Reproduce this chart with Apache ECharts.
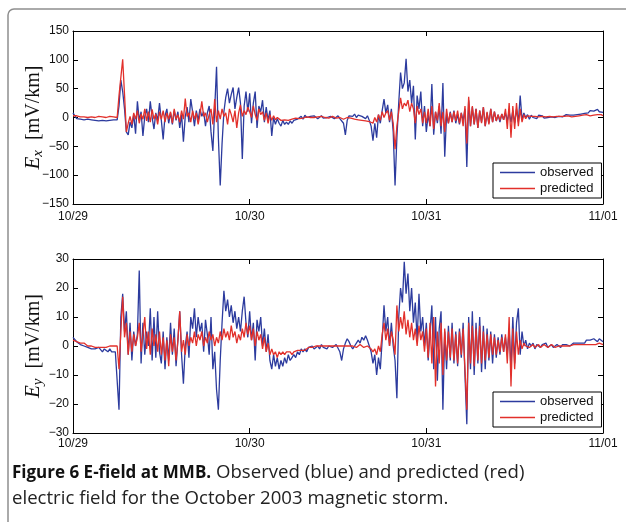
<!DOCTYPE html>
<html lang="en">
<head>
<meta charset="UTF-8">
<script src="https://cdn.jsdelivr.net/npm/echarts@6/dist/echarts.min.js"></script>
<title>E-field at MMB</title>
<style>
  html, body { margin: 0; padding: 0; background: #fff; }
  #chart { width: 626px; height: 522px; }
</style>
</head>
<body>
<div id="chart"></div>
<script>
// traces digitised every 15 min, 10/29 00:00 -> 11/01 00:00 (hours from start)
var stepHours = 0.25;
var dayLabels = ['10/29', '10/30', '10/31', '11/01'];
var seriesNames = ['observed', 'predicted'];

// Ex [mV/km]
var obsEx = [
  8, 3, -2, -4, -3, -5, -4, -6, -3, -5, -4, -7, -5, -3, -6, -4, -5, -3, -6, -4, -5, -3, -4, -6,
  -4, 20, 65, 45, 15, -25, -30, -8, -18, 5, -28, 28, -5, 10, -32, 2, 15, -8, 28, 0, -20, 8, -5, 25,
  -5, -38, 3, 15, -10, 8, -12, 12, -5, 10, -18, 5, -42, 2, 18, -8, 32, 10, -15, 12, -5, 15, 2, 10,
  -15, 8, 20, -25, -58, 15, 88, -35, -118, -45, 10, 35, 50, 25, 40, 52, 15, 35, 52, 25, -72, 20, 45, 10,
  42, -10, 25, 45, -18, 20, 10, 30, -8, 18, -5, 12, -32, 0, -12, -2, -10, -15, -5, -12, -8, -12, -6, -10,
  -5, -8, -3, -2, 2, -3, 4, 0, -2, 2, -1, 3, 0, -2, 1, 3, -1, 2, 0, -3, 2, 1, -2, 0,
  3, -2, 0, -10, -30, -5, 3, 5, 2, 6, 0, 4, 7, 2, 5, -2, 3, -5, -15, -40, -10, -35, 5, -10,
  12, 32, 8, 22, -8, 15, -25, -118, -35, 25, 78, 50, 60, 102, 45, 65, 25, 55, -38, 38, 15, 45, -15, 20,
  -25, 5, -15, 58, -30, 10, -10, 20, -28, 60, -68, 5, -10, 10, -8, 12, -10, 6, -12, 8, -6, 15, -86, 30,
  -15, 18, -12, 15, -18, 12, -8, 18, -15, 8, -10, 15, -8, 10, -6, 5, -8, 6, -4, 8, -6, 10, -8, 12,
  -10, 15, -8, 38, -4, 8, 0, 5, -3, 4, 0, 3, -2, 4, 1, 3, -1, 2, 0, 3, 1, 2, 0, 3,
  2, 4, 1, 3, 5, 3, 4, 6, 4, 7, 5, 8, 6, 9, 7, 10, 8, 12, 9, 11, 8, 14, 10, 12,
  9
];
var predEx = [
  3, 2, 3, 2, 1, 2, 1, 2, 0, 2, 1, 2, 0, 1, 2, 0, 1, 2, 0, 1, 2, 0, 1, 0,
  0, 38, 35, 101, 40, -25, -10, 2, -12, 8, -3, 12, -10, 6, -3, 15, -6, 10, -8, 14, -3, 6, -12, 10,
  -3, 12, -8, 8, -3, 10, -10, 15, -3, 5, -8, 12, -3, 33, 2, 8, -8, 12, -3, 8, -12, 5, 28, 2,
  8, -8, 5, 15, -12, 32, -8, 12, -3, 15, 2, 8, -12, 15, 5, -8, 12, -18, 8, 22, 2, 12, 5, 18,
  10, 0, 20, 5, -5, 15, 5, 10, -5, 8, -10, 5, -5, 3, -4, 0, -3, -5, -2, -4, -3, -5, -2, -3,
  -2, -1, 0, -2, 1, -1, 0, 1, -1, 0, 2, 0, -1, 1, 0, 2, -1, 0, 1, -1, 0, 2, 0, -1,
  1, 0, -1, -3, -2, 0, 1, -1, 0, -3, -2, -4, -3, -5, -4, -6, -5, -7, -4, -10, 0, -8, 5, -5,
  10, 0, 8, 12, -5, 10, -10, -55, -15, 10, 34, 15, 25, 20, 30, 10, 25, 15, -10, 20, 5, 15, -10, 10,
  -10, 15, -15, 20, -20, 10, -5, 25, -15, 10, -25, 15, -10, 8, -8, 10, -6, 12, -10, 8, -15, 20, -45, 36,
  -15, 20, -12, 15, -18, 12, -10, 18, -15, 10, -12, 15, -8, 10, -6, 5, -5, 6, -4, 15, -20, 25, -35, 20,
  -20, 25, -15, 15, -8, 5, -2, 3, 0, 2, -1, 2, 0, 1, -1, 2, 0, 1, -1, 2, 0, 1, 0, 2,
  1, 2, 0, 2, 1, 3, 2, 1, 3, 2, 4, 3, 2, 4, 3, 5, 4, 3, 5, 4, 6, 5, 4, 5,
  3
];

// Ey [mV/km]
var obsEy = [
  3, 2.5, 1.5, 1, 0.5, 1, 0, 0.5, -0.5, 0, -1, -0.5, -1, -1.5, -0.5, -1, -2, -1, -1.5, -2, -1, -2, -1.5, -2,
  -1.5, -22, 10, 18, 5, 12, -3, 8, -5, 5, 0, 4, 26, -6, 8, -3, 5, 0, 13, -5, 10, -4, 12, -2,
  -6, 5, -8, 3, -5, 8, -3, 6, -7, 2, 12, -3, -13, 0, 5, -4, 10, 6, 13, 3, 10, 5, 8, -2,
  9, 4, -3, 10, -8, -2, -15, -22, -5, 8, 19, 12, 16, 10, 14, 8, 12, 6, 10, 5, 12, 17, 8, 3,
  12, 2, 8, -5, 9, 5, 10, 0, 6, -2, 4, -5, -8, -3, -7, -4, -8, -5, -7, -4, -6, -3, -5, -4,
  -3, -4, -2, -3, -1, -2, -1, -2, -0.5, -1, 0, -1, -0.5, 0, -1, 0.5, -0.5, 0, -1, 0, 0.5, -0.5, 0, 0.5,
  0, -2, -5, -1, 1, 2.5, 1.5, 0, -1, 0, 1, 2, 1, 3, 2, 3.5, 2, 0, -2, -6, -3, -10, -4, -8,
  2, 14, 5, 10, 0, 8, 0, -5, -18, 10, 20, 15, 29, 18, 25, 12, 20, 8, 15, 2, 18, 5, 10, 0,
  8, -5, 5, 14, -8, 10, -12, 6, 12, -22, 5, -8, 7, -5, 8, -6, 5, -7, 6, -4, 8, -10, -27, 10,
  -8, 12, -10, 8, -6, 10, -9, 7, -8, 6, -5, 5, -6, 4, -4, 3, -3, 4, -2, 3, -3, 6, -8, 10,
  -6, 8, 13, -3, 5, 0, 2, -1, 1, 0, 1, -1, 0.5, 1, -0.5, 0.5, 0, 1, -0.5, 0, 0.5, -0.5, 0, 0.5,
  0, -0.5, 0.5, 0, 0.5, 1, 0, 0.5, 1, 0.5, 1, 1.5, 1, 1.5, 1, 2, 1.5, 2, 1.5, 2.5, 2, 1.5, 2.5, 2,
  1.5
];
var predEy = [
  2, 1.5, 1.5, 1, 1, 0.5, 1, 0.5, 0, 0.5, 0, 0, -0.5, 0, -0.5, 0, -0.5, 0, -0.5, -0.5, 0, -0.5, 0, -0.5,
  0, -8, 5, 17, 3, 8, -3, 5, -2, 4, 0, 3, 8, -2, 4, 10, -1, 5, -3, 6, 0, 4, -2, 5,
  -3, 3, -5, 2, -7, 4, -2, 3, -5, 2, 12, -2, 2, -3, 4, 0, 3, 1, 5, 0, 4, 2, 5, 0,
  3, 1, 5, 2, 4, 0, 3, 1, 5, 2, 6, 3, 5, 2, 7, 3, 5, 1, 4, 2, 6, 3, 8, 4,
  7, 2, 6, 0, 5, 2, 4, -1, 3, -2, 1, -3, -1, -3, -2, -4, -2, -3, -2, -3, -2, -2.5, -2, -3,
  -2, -2.5, -1.5, -2, -1.5, -1, -1.5, -1, -0.5, -1, -0.5, -1, 0, -0.5, 0, -0.5, 0, 0.5, 0, -0.5, 0, 0.5, 0, 0,
  0, -0.5, 0, 0.5, 0, -0.5, 0, 0.5, 0, 0, -0.5, 0, 0.5, 0, -0.5, 0, 0, -0.5, -1, -2, -1, -3, 0, -2,
  4, 8, 2, 6, 0, 5, 2, -3, 14, 5, 10, 6, 12, 4, 9, 3, 8, 2, 6, 0, 7, 2, 5, -2,
  6, -4, 8, -6, 10, -14, 5, -6, 8, -10, 6, -5, 5, -4, 6, -5, 4, -6, 5, -3, 6, -8, -22, 8,
  -6, 7, -7, 6, -5, 7, -6, 5, -5, 4, -4, 4, -3, 3, -3, 2, -2, 3, -2, 4, -6, 10, -14, 6,
  -8, 5, -3, 2, -1, 1, 0, 0.5, -0.5, 0, 0.5, -0.5, 0, 0.5, -0.5, 0, 0.5, 0, -0.5, 0, 0.5, 0, -0.5, 0,
  0, 0.5, 0, -0.5, 0, 0.5, 0, 0, 0.5, 0, 0.5, 1, 0.5, 0, 0.5, 1, 0.5, 1, 0.5, 1, 0.5, 1, 1, 0.5,
  0.5
];

var blue = '#2c3b9e';
var red = '#e2302b';
var tickFont = 'Liberation Sans, Arial, sans-serif';
var serif = 'Liberation Serif, Times New Roman, serif';

function toPairs(vals) {
  return vals.map(function (v, i) { return [i * stepHours, v]; });
}

function minusFmt(v) {
  return v < 0 ? '\u2212' + Math.abs(v) : String(v);
}

// bottom axis with labels + plain top axis (matlab box look)
function xAxes(grid, labelGap) {
  var common = {
    type: 'value', gridIndex: grid, min: 0, max: 72, interval: 24,
    axisLine: { onZero: false, lineStyle: { color: '#000', width: 1 } },
    axisTick: { inside: true, length: 5, lineStyle: { color: '#000' } },
    splitLine: { show: false }
  };
  return [
    Object.assign({}, common, {
      position: 'bottom',
      axisLabel: {
        margin: labelGap, color: '#111', fontSize: 12, fontFamily: tickFont,
        formatter: function (v) { return dayLabels[Math.round(v / 24)]; }
      }
    }),
    Object.assign({}, common, { position: 'top', axisLabel: { show: false } })
  ];
}

function yAxes(grid, lim, step, label) {
  var common = {
    type: 'value', gridIndex: grid, min: -lim, max: lim, interval: step,
    axisLine: { show: true, onZero: false, lineStyle: { color: '#000', width: 1 } },
    axisTick: { show: true, inside: true, length: 5, lineStyle: { color: '#000' } },
    splitLine: { show: false }
  };
  return [
    Object.assign({}, common, {
      position: 'left',
      axisLabel: { margin: 4, color: '#111', fontSize: 12, fontFamily: tickFont, formatter: minusFmt },
      name: '{e|E}{s|' + label + '}{n|  [mV/km]}',
      nameLocation: 'middle',
      nameGap: 27,
      nameMoveOverlap: false,
      nameTextStyle: {
        rich: {
          e: { fontFamily: serif, fontStyle: 'italic', fontSize: 21, color: '#111' },
          s: { fontFamily: serif, fontStyle: 'italic', fontSize: 15, color: '#111', padding: [10, 0, 0, 0] },
          n: { fontFamily: serif, fontSize: 20, color: '#111' }
        }
      }
    }),
    Object.assign({}, common, { position: 'right', axisLabel: { show: false } })
  ];
}

function legendAt(top) {
  return {
    data: seriesNames, orient: 'vertical', left: 493, top: top,
    icon: 'rect', itemWidth: 35, itemHeight: 1.3, itemGap: 1,
    padding: [2, 8, 2, 7],
    borderColor: '#000', borderWidth: 1, backgroundColor: '#fff',
    textStyle: { fontSize: 13, lineHeight: 15, fontFamily: tickFont, color: '#111' }
  };
}

function line(name, vals, color, axis) {
  return {
    name: name, type: 'line', data: toPairs(vals),
    xAxisIndex: axis, yAxisIndex: axis,
    symbol: 'none', showSymbol: false, animation: false,
    lineStyle: { color: color, width: 1.3 },
    itemStyle: { color: color }
  };
}

var chart = echarts.init(document.getElementById('chart'));

var option = {
  animation: false,
  backgroundColor: '#fff',
  grid: [
    { left: 73, top: 31, width: 530, height: 173 },
    { left: 73, top: 259, width: 530, height: 174 }
  ],
  xAxis: xAxes(0, 7).concat(xAxes(1, 5)),
  yAxis: yAxes(0, 150, 50, 'x').concat(yAxes(1, 30, 10, 'y')),
  legend: [legendAt(163), legendAt(392)],
  series: [
    line('observed', obsEx, blue, 0),
    line('predicted', predEx, red, 0),
    line('observed', obsEy, blue, 2),
    line('predicted', predEy, red, 2)
  ],
  graphic: [
    {
      type: 'rect', silent: true,
      shape: { x: 8, y: 9, width: 640, height: 540, r: 6 },
      style: { fill: 'none', stroke: '#8e8e8e', lineWidth: 1.5 }
    },
    {
      type: 'text', left: 12, top: 460, silent: true,
      style: {
        text: '{b|Figure 6 E-field at MMB.}{n| Observed (blue) and predicted (red)}\n{n|electric field for the October 2003 magnetic storm.}',
        lineHeight: 26,
        rich: {
          b: { fontFamily: 'Open Sans', fontWeight: 'bold', fontSize: 17, fill: '#111', lineHeight: 26 },
          n: { fontFamily: 'Open Sans', fontSize: 18.6, fill: '#222', lineHeight: 26 }
        }
      }
    }
  ]
};

chart.setOption(option);
</script>
</body>
</html>
